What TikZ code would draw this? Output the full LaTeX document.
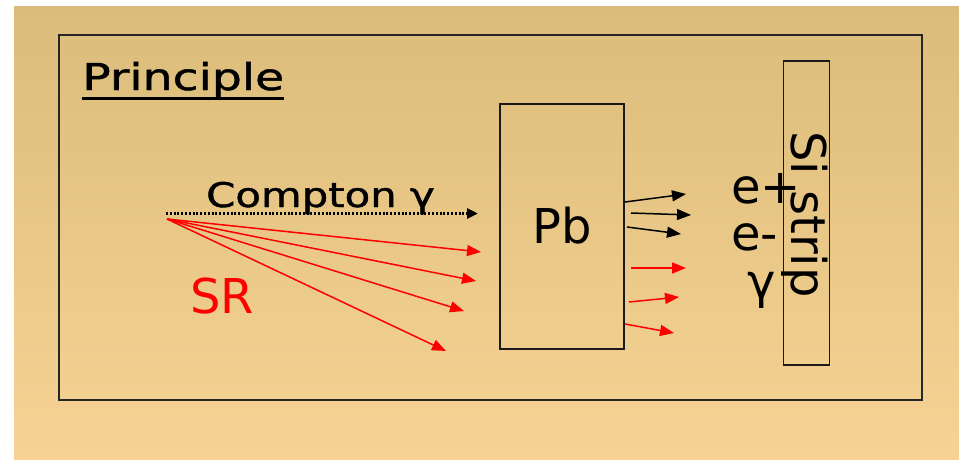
\documentclass[tikz,border=0pt]{standalone}
\usepackage{fontspec}
\setmainfont{DejaVu Sans}
\newfontfamily\heavyfont[FakeBold=1.2]{DejaVu Sans}
\usetikzlibrary{arrows.meta}
\definecolor{bgtop}{RGB}{219,188,122}
\definecolor{bgbot}{RGB}{246,211,148}
\definecolor{srred}{RGB}{255,0,0}
\newcommand\myunderline[1]{\setbox0\hbox{#1}\rlap{\rule[-9.5pt]{\wd0}{2.8pt}}\box0}
\tikzset{
  frame/.style={draw=black!85, line width=2pt},
  boxline/.style={draw=black!90, line width=1.3pt},
  srarrow/.style={draw=srred, line width=1.5pt, -{Triangle[length=14pt,width=11pt]}},
  blkarrow/.style={draw=black, line width=1.5pt, -{Triangle[length=14pt,width=11pt]}},
  dotarrow/.style={draw=black, line width=2.8pt, dash pattern=on 2pt off 1.8pt, -{Triangle[length=11pt,width=10pt]}},
  lbl/.style={inner sep=0pt, font=\fontsize{48}{50}\selectfont}
}
\begin{document}
\begin{tikzpicture}[x=1pt,y=-1pt]
\useasboundingbox (0,0) rectangle (959,459);
\fill[white] (0,0) rectangle (959,459);
\shade[top color=bgtop, bottom color=bgbot] (14,6) rectangle (959,459);
% outer frame
\draw[frame] (58.5,35) rectangle (921.5,400);
% title
\node[inner sep=0pt, anchor=base west, font=\heavyfont\fontsize{37}{40}\selectfont] (title) at (82,90) {\scalebox{1.28}[1]{\myunderline{Principle}}};
% Pb box
\draw[boxline] (500,104) rectangle (624,349);
\node (pbbox) at (562,226.5) [minimum width=124pt, minimum height=245pt, inner sep=0pt] {};
\node[lbl, anchor=base] (pb) at (562,243) {Pb};
% Si strip
\node (si) [draw=black!90, line width=1.1pt, minimum width=46pt, minimum height=304pt, inner sep=0pt] at (806.5,213) {};
\node[lbl, rotate=-90, anchor=base west] (silbl) at (791,131) {Si strip};
% source
\coordinate (src) at (166,213.5);
\coordinate (srcr) at (167,219);
\coordinate (cg) at (478,213.5);
\draw[dotarrow] (src) -- (cg);
\node[inner sep=0pt, anchor=base west, font=\heavyfont\fontsize{34}{36}\selectfont] (compton) at (206,207) {\scalebox{1.23}[1]{Compton γ}};
% SR arrows
\coordinate (r1) at (481,252);
\coordinate (r2) at (476,281);
\coordinate (r3) at (464,311);
\coordinate (r4) at (446,351);
\draw[srarrow] (srcr) -- (r1);
\draw[srarrow] (srcr) -- (r2);
\draw[srarrow] (srcr) -- (r3);
\draw[srarrow] (srcr) -- (r4);
\node[lbl, text=srred, anchor=base west] (sr) at (190,313) {SR};
% outgoing black arrows
\coordinate (b1s) at (625,202);
\coordinate (b1e) at (686,194);
\coordinate (b2s) at (631,213);
\coordinate (b2e) at (691,215);
\coordinate (b3s) at (627,227);
\coordinate (b3e) at (681,234);
\draw[blkarrow] (b1s) -- (b1e);
\draw[blkarrow] (b2s) -- (b2e);
\draw[blkarrow] (b3s) -- (b3e);
% outgoing red arrows
\coordinate (o1s) at (631,268);
\coordinate (o1e) at (686,268);
\coordinate (o2s) at (629,302);
\coordinate (o2e) at (679,297);
\coordinate (o3s) at (625,324);
\coordinate (o3e) at (674,333);
\draw[srarrow] (o1s) -- (o1e);
\draw[srarrow] (o2s) -- (o2e);
\draw[srarrow] (o3s) -- (o3e);
% particle labels
\node[lbl, anchor=base west] (ep) at (731,203) {e+};
\node[lbl, anchor=base west] (em) at (731,250) {e-};
\node[lbl, anchor=base west] (gam) at (747,298) {γ};
\end{tikzpicture}
\end{document}
